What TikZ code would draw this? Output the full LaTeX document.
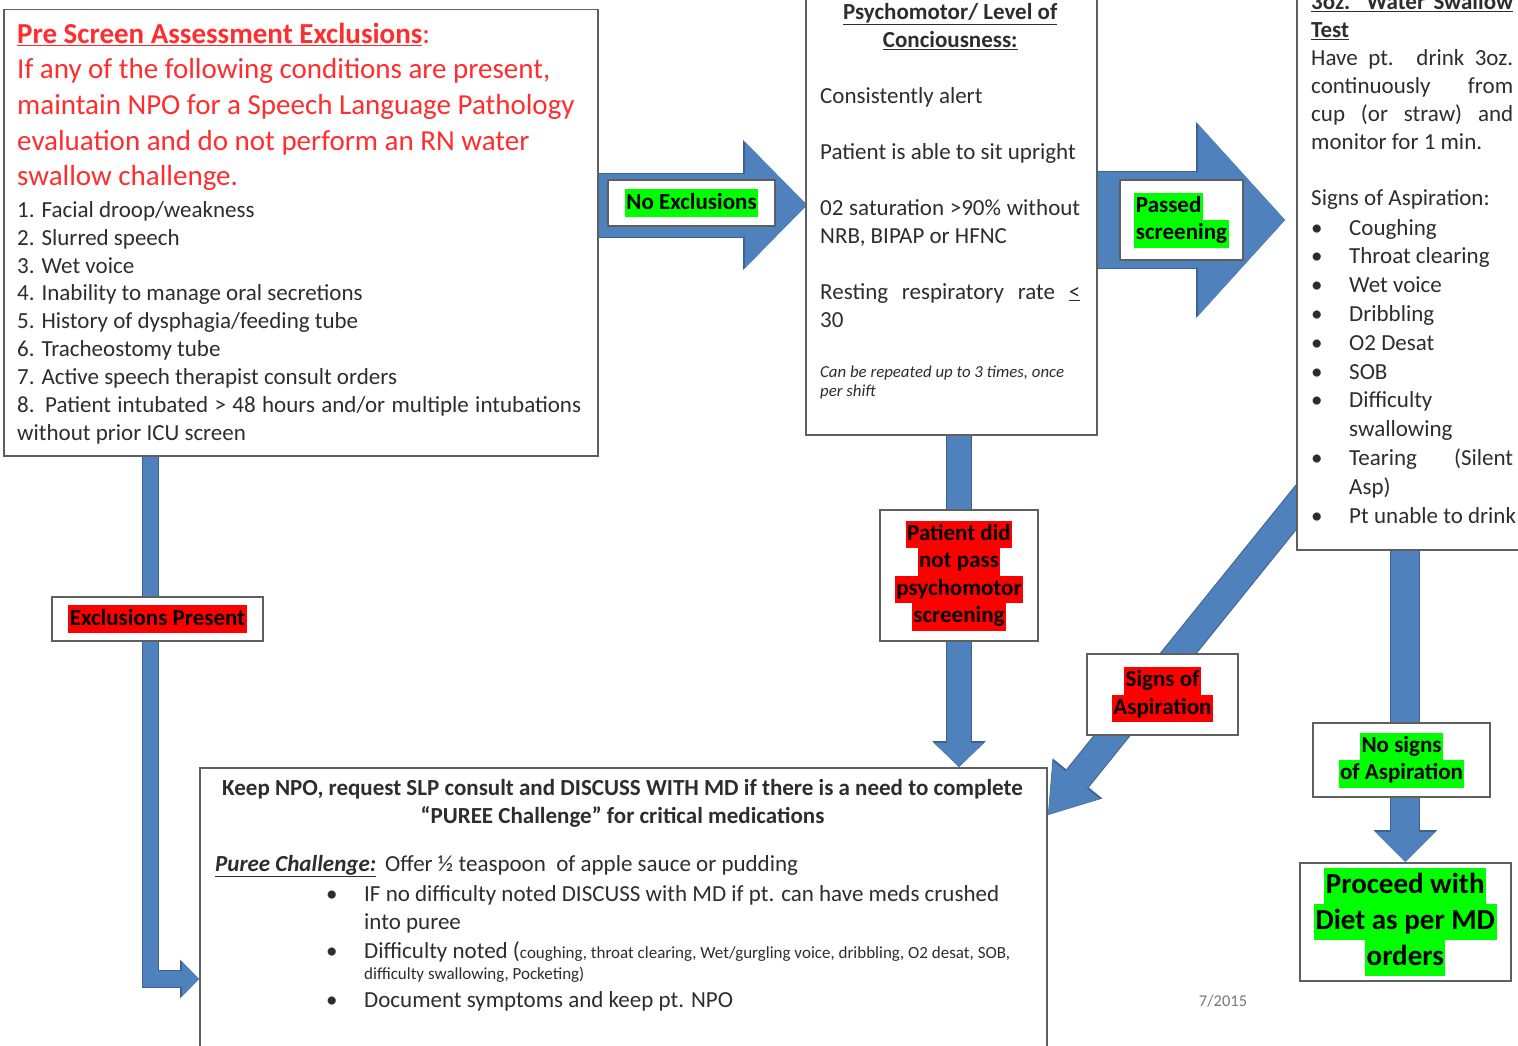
\documentclass[tikz,border=0pt]{standalone}
\usepackage{fontspec}
\setmainfont{Carlito}
\usetikzlibrary{arrows.meta}
\pgfdeclarelayer{bg}
\pgfsetlayers{bg,main}
\definecolor{abfill}{RGB}{79,129,189}
\definecolor{abedge}{RGB}{60,98,145}
\definecolor{boxedge}{RGB}{95,95,95}
\definecolor{hlgreen}{RGB}{0,255,0}
\definecolor{hlred}{RGB}{255,0,0}
\definecolor{txtred}{RGB}{255,45,45}
\definecolor{txtcol}{RGB}{45,45,45}
\definecolor{datecol}{RGB}{120,120,120}
\newcommand\hlbox[2]{{\setlength{\fboxsep}{1.5pt}\colorbox{#1}{\rule[\dimexpr-0.28\baselineskip+1.5pt\relax]{0pt}{\dimexpr\baselineskip-3pt\relax}#2}}}
\newcommand\bulx{\makebox[38pt][l]{\textbullet}}
\tikzset{
  box/.style={draw=boxedge, line width=1.5pt, fill=white, inner sep=0pt, anchor=north west},
  lbl/.style={draw=boxedge, line width=1.5pt, fill=white, inner sep=0pt, align=center,
              font=\fontsize{23}{27.5}\selectfont\bfseries},
  txtnode/.style={inner sep=0pt, anchor=north west, align=left, text=txtcol,
              font=\fontsize{23}{28}\selectfont},
  % #1 shaft width, #2 head width, #3 head length, #4-#6 the same plus the dark rim
  barrow/.style n args={6}{draw=abfill, line width=#1,
              -{Triangle[width=#2,length=#3,line width=0pt]},
              preaction={draw=abedge, line width=#4,
              -{Triangle[width=#5,length=#6,line width=0pt]}}},
}
\begin{document}
\begin{tikzpicture}[x=1pt,y=1pt]
\useasboundingbox (0,0) rectangle (1518,-1046);
\clip (0,0) rectangle (1518,-1046);

% main boxes
\node[box, minimum width=594pt, minimum height=446pt] (excl) at (3,-9) {};
\node[box, minimum width=291pt, minimum height=450pt] (psy) at (805,16) {};
\node[box, minimum width=240pt, minimum height=565pt] (water) at (1296,16) {};
\node[box, minimum width=847pt, minimum height=300pt] (keep) at (199,-767) {};
\node[box, minimum width=211pt, minimum height=118pt, align=center,
      font=\fontsize{29}{36}\selectfont\bfseries] (proceed) at (1299,-862)
  {\hlbox{hlgreen}{Proceed with}\\\hlbox{hlgreen}{Diet as per MD}\\\hlbox{hlgreen}{orders}};

% exclusions box text
\node[txtnode, text=txtred, font=\fontsize{29}{35.7}\selectfont] (exclhead) at (17,-18)
  {\strut\textbf{\underline{Pre Screen Assessment Exclusions}}:\\
   If any of the following conditions are present,\\
   maintain NPO for a Speech Language Pathology\\
   evaluation and do not perform an RN water\\
   swallow challenge.};
\node[txtnode, font=\fontsize{23}{27.9}\selectfont] (excllist) at (17,-197.5)
  {\strut 1. Facial droop/weakness\\
   2. Slurred speech\\
   3. Wet voice\\
   4. Inability to manage oral secretions\\
   5. History of dysphagia/feeding tube\\
   6. Tracheostomy tube\\
   7. Active speech therapist consult orders\\
   \makebox[564pt][s]{8. Patient intubated > 48 hours and/or multiple intubations}\\
   without prior ICU screen};

% psychomotor box text
\node[txtnode] (psytext) at (820,0.6)
  {\strut\makebox[260pt]{\textbf{\underline{Psychomotor/ Level of}}}\\
   \makebox[260pt]{\textbf{\underline{Conciousness:}}}\\
   \strut\\
   Consistently alert\\
   \strut\\
   Patient is able to sit upright\\
   \strut\\
   \makebox[260pt][s]{02 saturation >90\% without}\\
   NRB, BIPAP or HFNC\\
   \strut\\
   \makebox[260pt][s]{Resting respiratory rate \underline{<}}\\
   30};
\node[txtnode, font=\fontsize{16.8}{19}\selectfont\itshape] (psynote) at (820,-363.7)
  {\strut Can be repeated up to 3 times, once\\ per shift};

% water swallow box text
\node[txtnode] (waterhead) at (1311,10.6)
  {\strut\underline{\makebox[202pt][s]{\textbf{3oz. Water Swallow}}}\\
   \underline{\textbf{Test}}\\
   \makebox[202pt][s]{Have pt. drink 3oz.}\\
   \makebox[202pt][s]{continuously from}\\
   \makebox[202pt][s]{cup (or straw) and}\\
   monitor for 1 min.\\
   \strut\\
   Signs of Aspiration:};
\node[txtnode, font=\fontsize{23}{28.8}\selectfont] (waterlist) at (1311,-214.8)
  {\strut\bulx Coughing\\
   \bulx Throat clearing\\
   \bulx Wet voice\\
   \bulx Dribbling\\
   \bulx O2 Desat\\
   \bulx SOB\\
   \bulx Difficulty\\
   \hspace*{38pt}swallowing\\
   \bulx\makebox[164pt][s]{Tearing (Silent}\\
   \hspace*{38pt}Asp)\\
   \bulx Pt unable to drink};

% keep NPO box text
\node[txtnode, anchor=north, align=center, font=\fontsize{23}{28}\selectfont\bfseries] (keephead) at (622.5,-775.4)
  {\strut Keep NPO, request SLP consult and DISCUSS WITH MD if there is a need to complete\\
   “PUREE Challenge” for critical medications};
\node[txtnode] (puree) at (215,-851.4)
  {\strut\makebox[170pt][l]{\textbf{\textit{\underline{Puree Challenge:}}}}Offer ½ teaspoon\ \ of apple sauce or pudding};
\node[txtnode] (keepb1) at (326,-881.4)
  {\strut\bulx IF no difficulty noted DISCUSS with MD if pt. can have meds crushed\\
   \hspace*{38pt}into puree};
\node[txtnode] (keepb2) at (326,-938.4)
  {\strut\bulx Difficulty noted ({\fontsize{17}{19}\selectfont coughing, throat clearing, Wet/gurgling voice, dribbling, O2 desat, SOB,}};
\node[txtnode, font=\fontsize{17}{19}\selectfont] (keepb2b) at (364,-965.7)
  {\strut difficulty swallowing, Pocketing)};
\node[txtnode] (keepb3) at (326,-987.4)
  {\strut\bulx Document symptoms and keep pt. NPO};
\node[text=datecol, font=\fontsize{16.5}{19}\selectfont, inner sep=0pt] (date) at (1223,-1001) {7/2015};

% labels
\node[lbl, minimum width=167pt, minimum height=46pt] (noexcl) at (691.5,-203)
  {\hlbox{hlgreen}{No Exclusions}};
\node[lbl, minimum width=123pt, minimum height=80pt, align=left] (passed) at (1181.5,-220)
  {\hlbox{hlgreen}{Passed}\\\hlbox{hlgreen}{screening}};
\node[lbl, minimum width=158pt, minimum height=131pt] (patient) at (959,-575.5)
  {\hlbox{hlred}{Patient did}\\\hlbox{hlred}{not pass}\\\hlbox{hlred}{psychomotor}\\\hlbox{hlred}{screening}};
\node[lbl, minimum width=151pt, minimum height=81pt] (signs) at (1162.5,-694.5)
  {\hlbox{hlred}{Signs of}\\\hlbox{hlred}{Aspiration}};
\node[lbl, minimum width=177pt, minimum height=74pt] (nosigns) at (1401.5,-760)
  {\hlbox{hlgreen}{No signs}\\\hlbox{hlgreen}{of Aspiration}};
\node[lbl, minimum width=211pt, minimum height=44pt] (exclpres) at (157.5,-619)
  {\hlbox{hlred}{Exclusions Present}};

% connector helper coordinates
\coordinate (a1) at (0,-205);
\coordinate (Lc) at (150.5,-979);
\coordinate (dstart) at (1310,-490);
\coordinate (dtip) at (1048,-815);

\begin{pgfonlayer}{bg}
\draw[barrow={63pt}{126pt}{62pt}{65pt}{130pt}{64pt}] (excl.east |- a1) -- ([xshift=2pt]psy.west |- a1);
\draw[barrow={96pt}{192pt}{87pt}{98pt}{196pt}{89pt}] (psy.east |- passed) -- ([xshift=-11pt]water.west |- passed);
\draw[barrow={24pt}{50pt}{24pt}{26pt}{54pt}{26pt}] (psy.south -| patient) -- (keep.north -| patient);
\draw[barrow={28pt}{60pt}{30pt}{30pt}{64pt}{32pt}] (water.south -| proceed) -- (proceed.north);
\draw[barrow={15.5pt}{35pt}{17pt}{17.5pt}{39pt}{19pt}, line join=miter] (excl.south -| Lc) |- (keep.west |- Lc);
\draw[barrow={27pt}{60pt}{45pt}{29pt}{64pt}{47pt}] (dstart) -- (dtip);
\end{pgfonlayer}
\end{tikzpicture}
\end{document}
